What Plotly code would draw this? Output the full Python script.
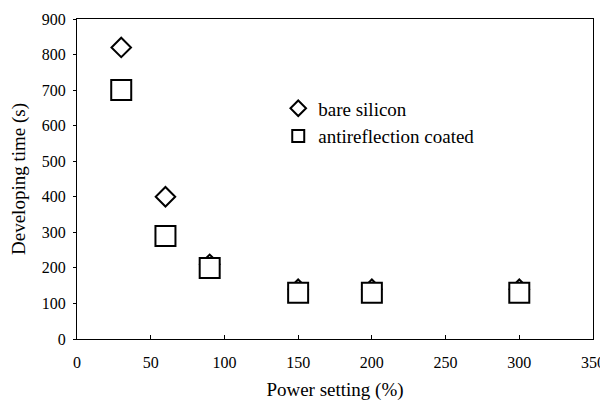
import plotly.graph_objects as go

power = [30, 60, 90, 150, 200, 300]
bare_silicon = [820, 400, 210, 140, 140, 140]
antireflection = [700, 290, 200, 130, 130, 130]
names = ["bare silicon", "antireflection coated"]
x_ticks = [0, 50, 100, 150, 200, 250, 300, 350]
y_ticks = [0, 100, 200, 300, 400, 500, 600, 700, 800, 900]

font = "Liberation Serif"

fig = go.Figure()
fig.add_trace(go.Scatter(
    x=power, y=bare_silicon, mode="markers", name=names[0], legendgroup="a",
    marker=dict(symbol="diamond", size=15, color="white", line=dict(width=2, color="black")),
))
fig.add_trace(go.Scatter(
    x=power, y=antireflection, mode="markers", name=names[1], legendgroup="b",
    marker=dict(symbol="square", size=20, color="white", line=dict(width=2, color="black")),
))

fig.update_layout(
    width=600, height=397,
    margin=dict(l=69, r=15, t=11, b=66),
    paper_bgcolor="white", plot_bgcolor="white",
    font=dict(family=font, size=16, color="black"),
    showlegend=True,
    legend=dict(
        x=0.39, y=0.78, xanchor="left", yanchor="top",
        bgcolor="rgba(0,0,0,0)", borderwidth=0,
        font=dict(family=font, size=19, color="black"),
        itemsizing="constant", traceorder="grouped", tracegroupgap=0,
    ),
    xaxis=dict(
        range=[0, 350], tickvals=x_ticks, ticks="inside", ticklen=4, tickcolor="black",
        showgrid=False, zeroline=False, showline=True, linecolor="black", linewidth=1,
        mirror=True, ticklabelstandoff=9, automargin=False,
        title=dict(text="Power setting (%)", font=dict(family=font, size=19), standoff=12),
        tickfont=dict(family=font, size=16),
    ),
    yaxis=dict(
        range=[0, 900], tickvals=y_ticks, ticks="outside", ticklen=3, tickcolor="black",
        showgrid=False, zeroline=False, showline=True, linecolor="black", linewidth=1,
        mirror=True, ticklabelstandoff=4, automargin=False,
        title=dict(text="Developing time (s)", font=dict(family=font, size=19), standoff=16),
        tickfont=dict(family=font, size=16),
    ),
)

fig.write_html("out.html")
